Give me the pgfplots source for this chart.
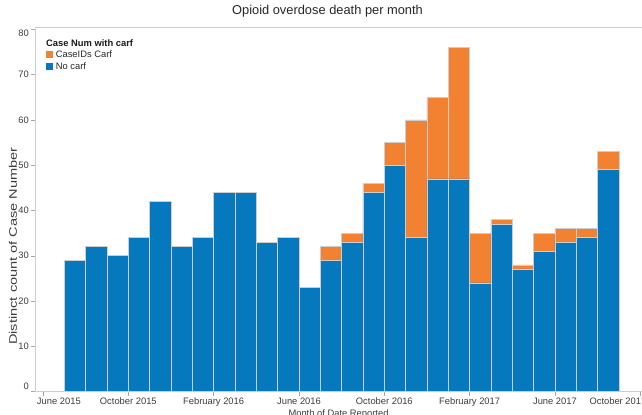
\documentclass[border=0pt]{standalone}
\usepackage{pgfplots}
\usepackage{pgfplotstable}
\pgfplotsset{compat=1.18}
\usepackage{fontspec}
\setmainfont{Liberation Sans}
\definecolor{cblue}{RGB}{5,120,190}
\definecolor{corange}{RGB}{242,130,50}
\definecolor{cline}{RGB}{205,205,205}
\definecolor{ctext}{RGB}{60,60,60}

\pgfplotstableread{
m blue orange
1.5 29 0
2.5 32 0
3.5 30 0
4.5 34 0
5.5 42 0
6.5 32 0
7.5 34 0
8.5 44 0
9.5 44 0
10.5 33 0
11.5 34 0
12.5 23 0
13.5 29 3
14.5 33 2
15.5 44 2
16.5 50 5
17.5 34 26
18.5 47 18
19.5 47 29
20.5 24 11
21.5 37 1
22.5 27 1
23.5 31 4
24.5 33 3
25.5 34 2
26.5 49 4
}\data

\begin{document}
\begin{tikzpicture}
\useasboundingbox (-35bp,-23.5bp) rectangle (607bp,391.5bp);
\clip (-35bp,-23.5bp) rectangle (607bp,391.5bp);
\begin{axis}[
  at={(0,0)}, anchor=south west,
  scale only axis, width=607bp, height=362bp,
  xmin=-0.375, xmax=28.08, ymin=0, ymax=80,
  clip=false,
  ybar stacked, bar width=1,
  axis line style={draw=none},
  xtick={0,4,...,28},
  xticklabels={{\makebox[0pt][l]{\hspace{-6bp}June 2015}},October 2015,February 2016,June 2016,October 2016,February 2017,June 2017,{\makebox[0pt][r]{October 2017\hspace{-6bp}}}},
  ytick={0,10,...,80},
  yticklabels={{\raisebox{5.5bp}[\height][\depth]{0}},10,20,30,40,50,60,70,{\raisebox{-3.5bp}[\height][\depth]{80}}},
  tick style={draw=gray!70, line width=0.5bp},
  tick align=outside, major tick length=4bp,
  xtick pos=left, ytick pos=left,
  xticklabel style={anchor=north, inner sep=0pt, yshift=-2bp, font=\fontsize{9.4}{11}\selectfont, text=ctext},
  yticklabel style={anchor=east, inner sep=0pt, xshift=-2bp, font=\fontsize{9.4}{11}\selectfont, text=ctext},
  xlabel={Month of Date Reported},
  xlabel style={at={(rel axis cs:0.5,0)}, anchor=center, yshift=-22.5bp, font=\fontsize{9.4}{11}\selectfont, text=ctext},
  ylabel={Distinct count of Case Number},
  ylabel style={at={(rel axis cs:-0.0362,0.402)}, anchor=center, xscale=1.33, font=\fontsize{11}{13}\selectfont, text=ctext},
  title={Opioid overdose death per month},
  title style={at={(rel axis cs:0.4819,1.0345)}, anchor=center, font=\fontsize{12.9}{15}\selectfont, text=black!85},
  legend style={at={(rel axis cs:0.0183,0.9475)}, anchor=north west, draw=none, fill=none,
    inner sep=0pt, outer sep=0pt, row sep=0pt,
    nodes={inner sep=1.5bp, text height=7bp, text depth=2bp, font=\fontsize{9.4}{11}\selectfont, text=black!85},
    /tikz/every odd column/.append style={column sep=2bp}},
  legend cell align=left,
]
\addplot[fill=cblue, draw=cline, line width=0.6bp, forget plot] table[x=m, y=blue] {\data};
\addplot[fill=corange, draw=cline, line width=0.6bp, forget plot] table[x=m, y=orange] {\data};
\addlegendimage{legend image code/.code={\fill[corange] (0bp,-2.9bp) rectangle (5.8bp,2.9bp);}}
\addlegendentry{CaseIDs Carf}
\addlegendimage{legend image code/.code={\fill[cblue] (0bp,-2.9bp) rectangle (5.8bp,2.9bp);}}
\addlegendentry{No carf}
\draw[cline, line width=0.7bp] (rel axis cs:0,0) -- (rel axis cs:0,1);
\draw[cline, line width=0.7bp] (rel axis cs:0,0) -- (rel axis cs:1,0);
\draw[cline, line width=0.7bp] ([yshift=2bp]rel axis cs:0,1) -- ([yshift=2bp]rel axis cs:1,1);
\node[anchor=west, inner sep=0pt, font=\fontsize{9.4}{11}\selectfont\bfseries, text=black!90] at (rel axis cs:0.0181,0.9627) {Case Num with carf};
\end{axis}
\end{tikzpicture}
\end{document}
